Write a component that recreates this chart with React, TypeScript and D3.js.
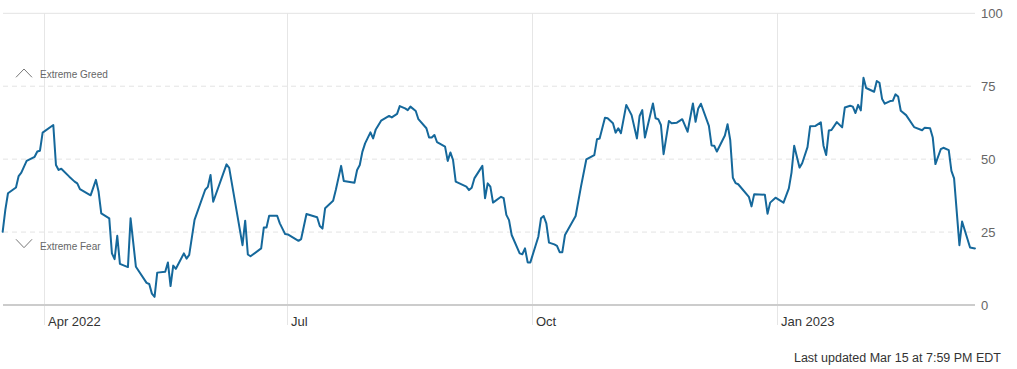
import React from "react";
import * as d3 from "d3";

const dates: string[] = [
  "2022-03-16","2022-03-17","2022-03-18","2022-03-21","2022-03-22","2022-03-23","2022-03-25","2022-03-28","2022-03-29","2022-03-30",
  "2022-03-31","2022-04-04","2022-04-05","2022-04-06","2022-04-07","2022-04-10","2022-04-12","2022-04-13","2022-04-14","2022-04-18",
  "2022-04-20","2022-04-21","2022-04-22","2022-04-25","2022-04-26","2022-04-27","2022-04-28","2022-04-29","2022-05-02","2022-05-03",
  "2022-05-05","2022-05-09","2022-05-10","2022-05-11","2022-05-12","2022-05-13","2022-05-16","2022-05-17","2022-05-18","2022-05-19",
  "2022-05-20","2022-05-23","2022-05-24","2022-05-25","2022-05-27","2022-05-31","2022-06-01","2022-06-02","2022-06-03","2022-06-08",
  "2022-06-09","2022-06-14","2022-06-15","2022-06-16","2022-06-17","2022-06-21","2022-06-22","2022-06-23","2022-06-24","2022-06-27",
  "2022-06-28","2022-06-30","2022-07-01","2022-07-05","2022-07-06","2022-07-08","2022-07-12","2022-07-13","2022-07-14","2022-07-15",
  "2022-07-18","2022-07-19","2022-07-21","2022-07-22","2022-07-26","2022-07-27","2022-07-28","2022-07-29","2022-07-30","2022-08-01",
  "2022-08-02","2022-08-03","2022-08-05","2022-08-08","2022-08-09","2022-08-11","2022-08-12","2022-08-14","2022-08-15","2022-08-16",
  "2022-08-18","2022-08-19","2022-08-22","2022-08-23","2022-08-24","2022-08-25","2022-08-26","2022-08-29","2022-08-30","2022-08-31",
  "2022-09-01","2022-09-02","2022-09-06","2022-09-07","2022-09-08","2022-09-09","2022-09-12","2022-09-13","2022-09-14","2022-09-15",
  "2022-09-16","2022-09-19","2022-09-20","2022-09-21","2022-09-22","2022-09-23","2022-09-26","2022-09-27","2022-09-28","2022-09-29",
  "2022-09-30","2022-10-03","2022-10-04","2022-10-05","2022-10-06","2022-10-07","2022-10-09","2022-10-10","2022-10-11","2022-10-12",
  "2022-10-13","2022-10-17","2022-10-19","2022-10-21","2022-10-24","2022-10-25","2022-10-26","2022-10-28","2022-10-29","2022-10-31",
  "2022-11-01","2022-11-02","2022-11-03","2022-11-05","2022-11-07","2022-11-09","2022-11-10","2022-11-11","2022-11-12","2022-11-15",
  "2022-11-16","2022-11-17","2022-11-18","2022-11-19","2022-11-21","2022-11-22","2022-11-24","2022-11-26","2022-11-28","2022-11-30",
  "2022-12-01","2022-12-02","2022-12-03","2022-12-06","2022-12-07","2022-12-08","2022-12-09","2022-12-12","2022-12-13","2022-12-14",
  "2022-12-15","2022-12-16","2022-12-17","2022-12-21","2022-12-22","2022-12-23","2022-12-27","2022-12-28","2022-12-29","2022-12-31",
  "2023-01-03","2023-01-05","2023-01-06","2023-01-07","2023-01-09","2023-01-10","2023-01-12","2023-01-13","2023-01-15","2023-01-17",
  "2023-01-18","2023-01-19","2023-01-20","2023-01-21","2023-01-23","2023-01-25","2023-01-26","2023-01-28","2023-01-29","2023-01-30",
  "2023-01-31","2023-02-01","2023-02-02","2023-02-03","2023-02-06","2023-02-07","2023-02-08","2023-02-09","2023-02-10","2023-02-12",
  "2023-02-13","2023-02-14","2023-02-15","2023-02-16","2023-02-18","2023-02-21","2023-02-24","2023-02-25","2023-02-27","2023-02-28",
  "2023-03-01","2023-03-03","2023-03-04","2023-03-06","2023-03-07","2023-03-08","2023-03-10","2023-03-11","2023-03-14","2023-03-15T20:00"
];

const values: number[] = [
  25.1,32.6,38.3,40.3,44.2,45.4,49.4,50.8,52.6,52.9,
  59.1,61.7,48.0,46.3,46.7,44.0,42.3,41.7,39.7,37.6,
  42.9,38.8,31.4,29.7,17.7,15.7,23.7,14.1,13.0,29.7,
  13.1,7.6,7.2,3.9,2.8,11.1,11.4,14.6,6.5,13.5,
  12.4,17.7,15.9,17.2,29.2,39.5,40.5,44.6,35.4,48.2,
  47.0,20.5,28.9,17.3,16.7,19.4,26.6,26.6,30.6,30.6,
  28.0,24.3,24.2,22.0,22.6,31.2,30.1,27.1,26.2,33.2,
  35.7,39.4,47.7,42.5,41.9,46.3,48.0,52.6,55.4,59.2,
  57.1,60.2,63.2,64.8,64.3,65.5,68.2,67.4,66.8,68.0,
  66.5,63.7,60.6,57.4,57.4,58.3,55.8,54.3,49.4,52.3,
  49.7,42.3,40.6,39.4,40.2,43.4,47.7,36.6,41.7,40.6,
  35.1,37.1,36.6,30.9,29.1,24.0,17.7,17.4,19.4,14.6,
  14.6,23.4,29.7,30.5,28.0,21.4,20.8,20.3,18.1,18.1,
  24.0,30.5,40.6,49.9,51.4,56.8,57.1,64.2,64.0,62.3,
  59.1,60.6,58.9,68.6,65.1,57.1,64.8,66.8,57.4,69.1,
  64.0,63.7,61.7,51.7,63.1,62.3,62.5,63.7,59.4,69.1,
  62.8,67.4,69.0,61.4,54.7,54.6,52.6,58.1,62.0,56.6,
  43.6,41.8,41.4,37.1,33.8,38.0,37.8,31.3,35.1,36.8,
  35.1,40.0,45.4,54.6,47.1,48.6,54.1,61.3,61.4,62.6,
  54.6,51.4,59.8,60.0,62.7,60.9,67.7,68.3,68.0,65.8,
  68.6,66.7,77.9,74.4,73.1,76.8,76.2,70.6,69.0,69.9,
  70.0,72.2,71.5,66.6,65.1,61.0,59.9,60.8,60.6,57.4,
  48.3,53.4,53.9,53.1,46.0,43.4,20.5,28.6,19.7,19.4
];

const xTickDates: string[] = ["2022-04-01", "2022-07-01", "2022-10-01", "2023-01-01"];
const xTickLabels: string[] = ["Apr 2022", "Jul", "Oct", "Jan 2023"];
const yTicks: number[] = [0, 25, 50, 75, 100];
const zoneLabels: string[] = ["Extreme Greed", "Extreme Fear"];
const footnote = "Last updated Mar 15 at 7:59 PM EDT";

const parse = (s: string): Date => {
  const p = d3.timeParse("%Y-%m-%dT%H:%M")(s);
  return p ? p : (d3.timeParse("%Y-%m-%d")(s) as Date);
};

export default function App() {
  const W = 1017;
  const H = 369;
  const left = 2.66;
  const right = 975.4;
  const top = 13.3;
  const bottom = 305;

  const x = d3
    .scaleTime()
    .domain([new Date(2022, 2, 16), new Date(2023, 2, 16)])
    .range([left, right]);
  const y = d3.scaleLinear().domain([0, 100]).range([bottom, top]);

  const data = dates.map((d, i) => ({ date: parse(d), value: values[i] }));
  const line = d3
    .line<{ date: Date; value: number }>()
    .x((d) => x(d.date))
    .y((d) => y(d.value));

  const gridEnd = 975;
  const font = "Liberation Sans, Arial, Helvetica, sans-serif";

  return (
    <svg
      width={W}
      height={H}
      style={{ position: "absolute", left: 0, top: 0, display: "block", background: "#fff" }}
      fontFamily={font}
    >
      {/* vertical month gridlines + ticks */}
      {xTickDates.map((d, i) => {
        const px = Math.round(x(parse(d))) + 0.5 - 1;
        return (
          <g key={d}>
            <line x1={px} x2={px} y1={top} y2={325} stroke="#e6e6e6" strokeWidth={1} />
            <text x={px + 3.5} y={326} fontSize={13} fill="#333">
              {xTickLabels[i]}
            </text>
          </g>
        );
      })}

      {/* horizontal gridlines */}
      {yTicks.map((t) => {
        const py = y(t);
        if (t === 0) {
          return (
            <line key={t} x1={3} x2={gridEnd} y1={py} y2={py} stroke="#cccccc" strokeWidth={2} />
          );
        }
        return (
          <line
            key={t}
            x1={3}
            x2={gridEnd}
            y1={py}
            y2={py}
            stroke="#e3e3e3"
            strokeWidth={1}
            strokeDasharray={t === 100 ? undefined : "5,4"}
          />
        );
      })}

      {/* y labels */}
      {yTicks.map((t) => (
        <text key={"l" + t} x={981} y={y(t) + 4.5} fontSize={13} fill="#666">
          {t}
        </text>
      ))}

      {/* zone labels */}
      <path d="M16,77.3 L24,69 L32,77.3" fill="none" stroke="#777" strokeWidth={1} />
      <text x={40} y={78} fontSize={10} fill="#666">
        {zoneLabels[0]}
      </text>
      <path d="M16,239.3 L24,247.7 L32,239.3" fill="none" stroke="#777" strokeWidth={1} />
      <text x={40} y={249.5} fontSize={10} fill="#666">
        {zoneLabels[1]}
      </text>

      {/* data line */}
      <path
        d={line(data) || ""}
        fill="none"
        stroke="#15689b"
        strokeWidth={2}
        strokeLinejoin="round"
        strokeLinecap="round"
      />

      <text x={1001} y={362} fontSize={12.5} fill="#333" textAnchor="end">
        {footnote}
      </text>
    </svg>
  );
}
